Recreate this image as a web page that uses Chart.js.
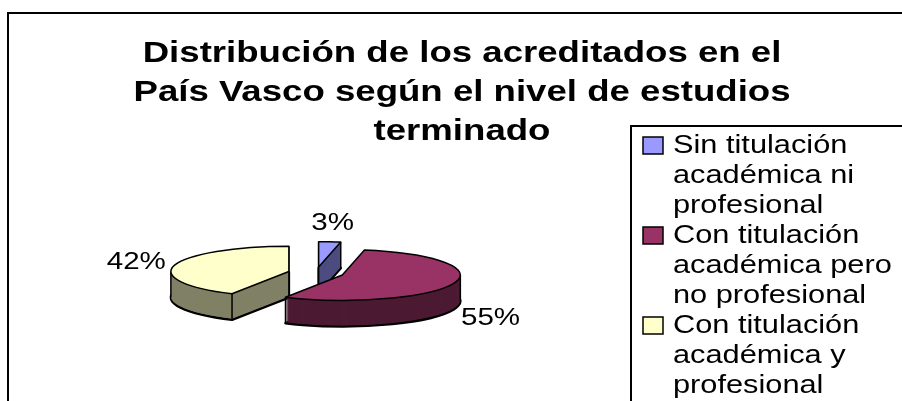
<!DOCTYPE html>
<html>
<head>
<meta charset="utf-8">
<script src="https://cdn.jsdelivr.net/npm/chart.js@4.4.0/dist/chart.umd.min.js"></script>
<style>
  html, body { margin: 0; padding: 0; background: #fff; }
  #wrap { width: 902px; height: 401px; }
</style>
</head>
<body>
<div id="wrap"><canvas id="pie3d" width="902" height="401"></canvas></div>
<script>
const titleLines = ['Distribución de los acreditados en el', 'País Vasco según el nivel de estudios', 'terminado'];
const categories = [
  ['Sin titulación', 'académica ni', 'profesional'],
  ['Con titulación', 'académica pero', 'no profesional'],
  ['Con titulación', 'académica y', 'profesional']
];
const shares = [3, 55, 42];
const topColors = ['#9999FF', '#993366', '#FFFFCC'];
const sideColors = ['#4D4D80', '#4D1A33', '#808066'];

const FONT = '"Liberation Sans", Arial, sans-serif';
const TILT = 0.215;    // aplastado vertical del pastel
const DEPTH = 26;      // grosor del 3D en px
const EXPLODE = 28;    // separación de los sectores
const STRETCH = 1.23;  // el texto original sale estirado a lo ancho

function mid(arc) { return (arc.startAngle + arc.endAngle) / 2; }

// geometría en pantalla de un sector ya separado
function geom(arc) {
  const m = mid(arc);
  const r = arc.outerRadius;
  const cx = arc.x + Math.cos(m) * EXPLODE;
  const cy = arc.y + Math.sin(m) * EXPLODE * TILT;
  const at = (ang) => ({ x: cx + Math.cos(ang) * r, y: cy + Math.sin(ang) * r * TILT });
  const corners = [{ x: cx, y: cy }, at(arc.startAngle), at(arc.endAngle)];
  [-Math.PI, 0, Math.PI, 2 * Math.PI, 3 * Math.PI].forEach(ang => {
    if (ang > arc.startAngle && ang < arc.endAngle) corners.push(at(ang));
  });
  return { cx, cy, r, m, corners };
}

function stretchedText(ctx, txt, x, y, align, sx) {
  const w = ctx.measureText(txt).width * sx;
  let x0 = x;
  if (align === 'center') x0 = x - w / 2;
  else if (align === 'right') x0 = x - w;
  ctx.save();
  ctx.translate(x0, y);
  ctx.scale(sx, 1);
  ctx.textAlign = 'left';
  ctx.fillText(txt, 0, 0);
  ctx.restore();
  return w;
}

const pie3d = {
  id: 'pie3d',
  beforeDraw(chart) {
    const ctx = chart.ctx;
    ctx.save();
    ctx.fillStyle = '#fff';
    ctx.fillRect(0, 0, chart.width, chart.height);
    ctx.strokeStyle = '#000';
    ctx.lineWidth = 2;
    ctx.strokeRect(8, 13, 1000, 500);
    ctx.restore();
  },
  beforeDatasetsDraw(chart) {
    const ctx = chart.ctx;
    const meta = chart.getDatasetMeta(0);
    const base = ctx.getTransform();
    const cy0 = meta.data[0].y;
    const outline = (w) => {
      ctx.save(); ctx.setTransform(base);
      ctx.lineWidth = w; ctx.strokeStyle = '#000'; ctx.lineJoin = 'round';
      ctx.stroke(); ctx.restore();
    };
    const paint = (arc, color, dy) => {
      const a = Object.create(arc);
      a.options = Object.assign({}, arc.options, { backgroundColor: color });
      const m = mid(arc);
      ctx.save();
      ctx.translate(0, cy0); ctx.scale(1, TILT); ctx.translate(0, -cy0);
      ctx.translate(Math.cos(m) * EXPLODE, Math.sin(m) * EXPLODE + dy / TILT);
      a.draw(ctx);
      ctx.restore();
    };
    const order = meta.data.map((arc, i) => i)
      .sort((p, q) => Math.sin(mid(meta.data[p])) - Math.sin(mid(meta.data[q])));

    order.forEach(i => {
      const arc = meta.data[i];
      // cara lateral: capas apiladas
      paint(arc, sideColors[i], DEPTH);
      outline(2.5);
      for (let d = DEPTH - 1; d > 0; d--) paint(arc, sideColors[i], d);
      // aristas verticales
      const g = geom(arc);
      ctx.save(); ctx.setTransform(base);
      ctx.strokeStyle = '#000'; ctx.lineWidth = 1.5;
      ctx.beginPath();
      g.corners.forEach(p => { ctx.moveTo(p.x, p.y); ctx.lineTo(p.x, p.y + DEPTH); });
      ctx.stroke(); ctx.restore();
      // cara superior
      paint(arc, topColors[i], 0);
      outline(1.5);
    });
    return false;
  },
  afterDraw(chart) {
    const ctx = chart.ctx;
    const meta = chart.getDatasetMeta(0);
    ctx.save();
    ctx.fillStyle = '#000';
    ctx.textBaseline = 'alphabetic';

    // título
    ctx.font = 'bold 30px ' + FONT;
    titleLines.forEach((line, i) => stretchedText(ctx, line, 462, 62 + i * 39, 'center', 1.22));

    // porcentajes
    ctx.font = '24px ' + FONT;
    meta.data.forEach((arc, i) => {
      const g = geom(arc);
      const txt = shares[i] + '%';
      const w = ctx.measureText(txt).width * STRETCH;
      const rx = g.cx + Math.cos(g.m) * g.r;
      let ry = g.cy + Math.sin(g.m) * g.r * TILT;
      if (Math.sin(g.m) > 0) ry += DEPTH;
      const lx = rx + Math.cos(g.m) * (w / 2 + 10);
      const ly = ry + Math.sin(g.m) * (8.5 + 12);
      stretchedText(ctx, txt, lx, ly + 8.5, 'center', STRETCH);
    });

    // leyenda
    ctx.strokeStyle = '#000';
    ctx.lineWidth = 2;
    ctx.strokeRect(631, 126, 300, 300);
    ctx.font = '25px ' + FONT;
    let y = 153;
    categories.forEach((lines, i) => {
      ctx.fillStyle = topColors[i];
      ctx.fillRect(643, y - 16, 20, 17);
      ctx.lineWidth = 1.5;
      ctx.strokeRect(643, y - 16, 20, 17);
      ctx.fillStyle = '#000';
      lines.forEach(line => {
        stretchedText(ctx, line, 673, y, 'left', STRETCH);
        y += 30;
      });
    });
    ctx.restore();
  }
};

new Chart(document.getElementById('pie3d'), {
  type: 'pie',
  data: {
    labels: categories,
    datasets: [{
      data: shares,
      backgroundColor: topColors,
      borderWidth: 0,
      radius: 118
    }]
  },
  options: {
    responsive: false,
    animation: false,
    devicePixelRatio: 1,
    events: [],
    layout: { padding: { left: 216, right: 486, top: 173, bottom: 28 } },
    plugins: {
      legend: { display: false },
      title: { display: false },
      tooltip: { enabled: false }
    }
  },
  plugins: [pie3d]
});
</script>
</body>
</html>
